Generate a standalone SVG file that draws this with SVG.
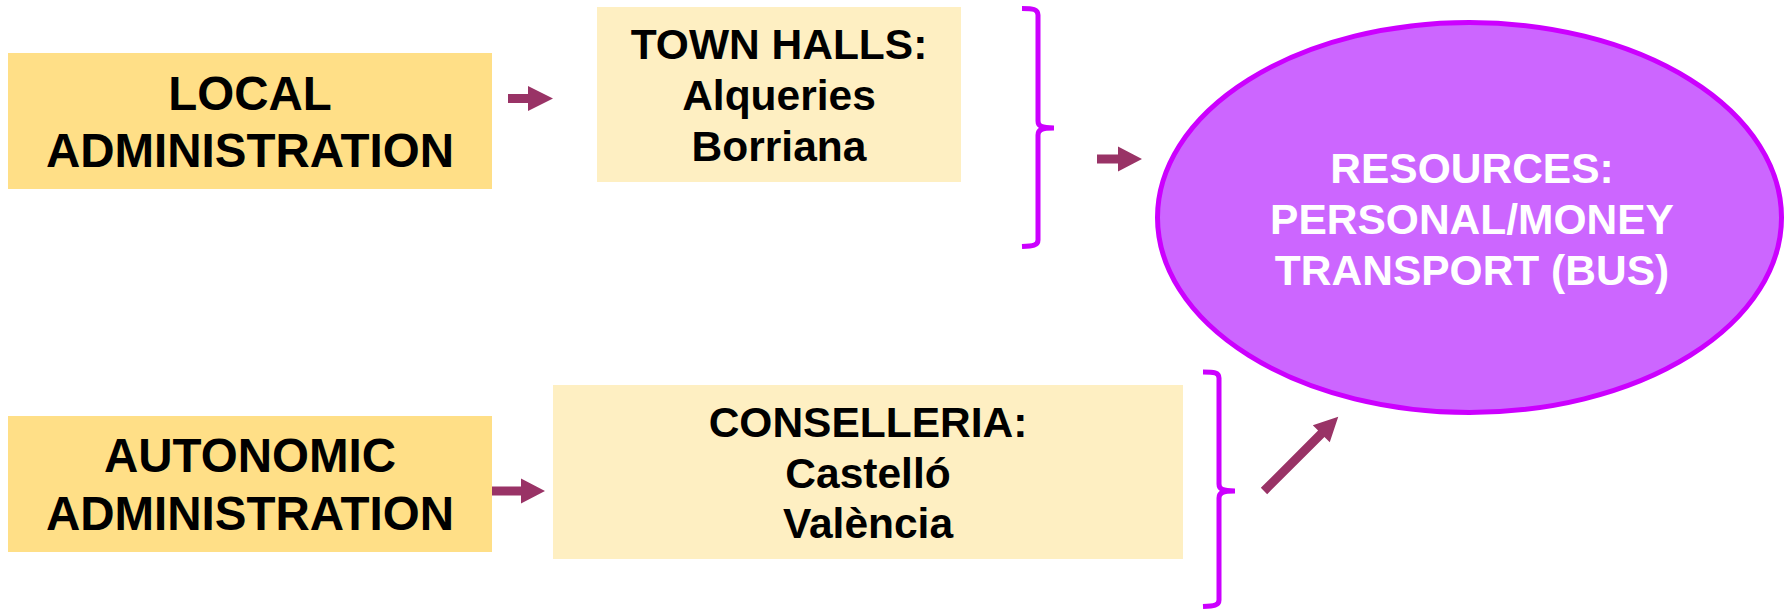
<svg xmlns="http://www.w3.org/2000/svg" width="1785" height="613" viewBox="0 0 1785 613">
<style>
.t{font-family:"Liberation Sans",Arial,sans-serif;font-weight:bold;text-anchor:middle;fill:#000}
.big{font-size:47.5px}
.mid{font-size:42.5px}
.w{fill:#fff}
.dark{fill:#FFDF87}
.light{fill:#FEEFC2}
.arrow{fill:#993366}
.brace{fill:none;stroke:#CC00FF;stroke-width:5}
</style>
<rect width="1785" height="613" fill="#fff"/>
<g id="local-administration">
<rect class="dark" x="8" y="53" width="484" height="136"/>
<text class="t big" x="250" y="110">LOCAL</text>
<text class="t big" x="250" y="167">ADMINISTRATION</text>
</g>
<g id="town-halls">
<rect class="light" x="597" y="7" width="364" height="175"/>
<text class="t mid" x="779" y="59">TOWN HALLS:</text>
<text class="t mid" x="779" y="110">Alqueries</text>
<text class="t mid" x="779" y="161">Borriana</text>
</g>
<g id="autonomic-administration">
<rect class="dark" x="8" y="416" width="484" height="136"/>
<text class="t big" x="250" y="472">AUTONOMIC</text>
<text class="t big" x="250" y="530">ADMINISTRATION</text>
</g>
<g id="conselleria">
<rect class="light" x="553" y="385" width="630" height="174"/>
<text class="t mid" x="868" y="437">CONSELLERIA:</text>
<text class="t mid" x="868" y="488">Castelló</text>
<text class="t mid" x="868" y="538">València</text>
</g>
<g id="resources">
<ellipse cx="1469.5" cy="217.5" rx="312" ry="195" fill="#CC66FF" stroke="#CC00FF" stroke-width="5"/>
<text class="t mid w" x="1472" y="183">RESOURCES:</text>
<text class="t mid w" x="1472" y="234">PERSONAL/MONEY</text>
<text class="t mid w" x="1472" y="285">TRANSPORT (BUS)</text>
</g>
<g id="connectors">
<path class="brace" d="M1022,8.5 C1033,8.5 1038,9 1038,15 L1038,121 C1038,126 1041,128 1054,128 C1041,128 1038,130 1038,135 L1038,240 C1038,245.5 1033,246 1022,246.5"/>
<path class="brace" d="M1203,372 C1214,372 1219,372.5 1219,378 L1219,484 C1219,489 1222,491 1235,491 C1222,491 1219,493 1219,498 L1219,600 C1219,605.5 1214,606 1203,606.5"/>
<polygon class="arrow" transform="translate(508,98.5)" points="0,-4.5 20,-4.5 20,-12.5 45,0 20,12.5 20,4.5 0,4.5"/>
<polygon class="arrow" transform="translate(1097,159)" points="0,-4.5 21,-4.5 21,-12.5 45,0 21,12.5 21,4.5 0,4.5"/>
<polygon class="arrow" transform="translate(492,491)" points="0,-4.5 29,-4.5 29,-12.5 53,0 29,12.5 29,4.5 0,4.5"/>
<polygon class="arrow" transform="translate(1264,491) rotate(-45)" points="0,-4.5 81,-4.5 81,-12 105,0 81,12 81,4.5 0,4.5"/>
</g>
</svg>
